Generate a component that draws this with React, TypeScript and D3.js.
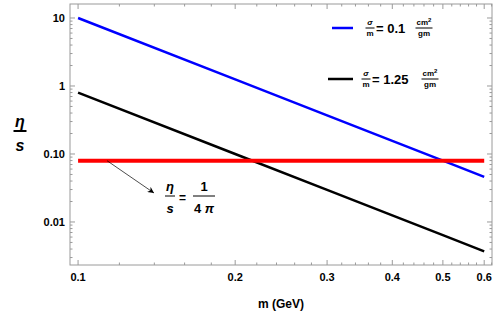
import React from "react";
import * as d3 from "d3";

// m in GeV
const masses = [0.1, 0.2, 0.3, 0.4, 0.5, 0.6];
// eta/s for sigma/m = 0.1 cm^2/gm
const etaBlue = [10, 1.25, 0.37, 0.156, 0.08, 0.046];
// eta/s for sigma/m = 1.25 cm^2/gm
const etaBlack = [0.8, 0.1, 0.0296, 0.0125, 0.0064, 0.0037];
// KSS bound 1/(4 pi)
const kss = 0.0796;

const xMajor = [0.1, 0.2, 0.3, 0.4, 0.5, 0.6];
const xMajorLabels = ["0.1", "0.2", "0.3", "0.4", "0.5", "0.6"];
const yMajor = [0.01, 0.1, 1, 10];
const yMajorLabels = ["0.01", "0.10", "1", "10"];

const W = 498;
const H = 319;
const FRAME = { left: 70, right: 492, top: 4, bottom: 265 };
const GRAY = "#9a9a9a";
const FONT = "'Liberation Sans', Arial, sans-serif";

export default function App() {
  const x = d3.scaleLog().domain([0.0965, 0.621]).range([FRAME.left, FRAME.right]);
  const y = d3.scaleLog().domain([0.00233, 16.06]).range([FRAME.bottom, FRAME.top]);

  const xMinor: number[] = [];
  for (let i = 12; i <= 62; i += 2) {
    if (i % 10 !== 0) xMinor.push(i / 100);
  }
  const yMinor: number[] = [];
  [0.001, 0.01, 0.1, 1, 10].forEach(d => {
    for (let k = 2; k <= 9; k++) {
      const v = d * k;
      if (v > 0.00233 && v < 16.06) yMinor.push(v);
    }
  });

  const line = d3
    .line<[number, number]>()
    .x(d => x(d[0]))
    .y(d => y(d[1]));

  const blue = masses.map((m, i) => [m, etaBlue[i]] as [number, number]);
  const black = masses.map((m, i) => [m, etaBlack[i]] as [number, number]);
  const red = [[0.1, kss], [0.6, kss]] as [number, number][];

  const frac = (
    cx: number,
    cy: number,
    top: React.ReactNode,
    bottom: React.ReactNode,
    w: number,
    size: number,
    italic = false,
    gapTop = 3,
    gapBottom = size,
    barW = 1
  ) => (
    <g>
      <text x={cx} y={cy - gapTop} textAnchor="middle" fontSize={size} fontStyle={italic ? "italic" : "normal"} fontWeight="bold">
        {top}
      </text>
      <line x1={cx - w / 2} x2={cx + w / 2} y1={cy} y2={cy} stroke="#000" strokeWidth={barW} />
      <text x={cx} y={cy + gapBottom} textAnchor="middle" fontSize={size} fontStyle={italic ? "italic" : "normal"} fontWeight="bold">
        {bottom}
      </text>
    </g>
  );

  return (
    <svg width={W} height={H} style={{ position: "absolute", left: 0, top: 0, background: "#fff" }} fontFamily={FONT}>
      <defs>
        <marker id="arrow" viewBox="0 0 10 10" refX="10" refY="5" markerWidth="9" markerHeight="9" orient="auto">
          <path d="M0,0 L10,5 L0,10 L3,5 z" fill="#000" />
        </marker>
      </defs>

      {/* data lines */}
      <path d={line(blue) ?? ""} fill="none" stroke="#0000ff" strokeWidth={2.5} />
      <path d={line(black) ?? ""} fill="none" stroke="#000" strokeWidth={2.5} />
      <path d={line(red) ?? ""} fill="none" stroke="#ff0000" strokeWidth={4} />

      {/* frame */}
      <rect x={FRAME.left} y={FRAME.top} width={FRAME.right - FRAME.left} height={FRAME.bottom - FRAME.top} fill="none" stroke={GRAY} strokeWidth={1} />

      {/* x ticks */}
      {xMajor.map(v => (
        <g key={"xm" + v}>
          <line x1={x(v)} x2={x(v)} y1={FRAME.bottom} y2={FRAME.bottom - 5} stroke={GRAY} />
          <line x1={x(v)} x2={x(v)} y1={FRAME.top} y2={FRAME.top + 5} stroke={GRAY} />
        </g>
      ))}
      {xMinor.map(v => (
        <g key={"xn" + v}>
          <line x1={x(v)} x2={x(v)} y1={FRAME.bottom} y2={FRAME.bottom - 2.5} stroke={GRAY} />
          <line x1={x(v)} x2={x(v)} y1={FRAME.top} y2={FRAME.top + 2.5} stroke={GRAY} />
        </g>
      ))}
      {xMajor.map((v, i) => (
        <text key={"xl" + v} x={x(v)} y={FRAME.bottom + 16} textAnchor="middle" fontSize={11} fontWeight="bold">
          {xMajorLabels[i]}
        </text>
      ))}

      {/* y ticks */}
      {yMajor.map(v => (
        <g key={"ym" + v}>
          <line x1={FRAME.left} x2={FRAME.left + 5} y1={y(v)} y2={y(v)} stroke={GRAY} />
          <line x1={FRAME.right} x2={FRAME.right - 5} y1={y(v)} y2={y(v)} stroke={GRAY} />
        </g>
      ))}
      {yMinor.map(v => (
        <g key={"yn" + v}>
          <line x1={FRAME.left} x2={FRAME.left + 2.5} y1={y(v)} y2={y(v)} stroke={GRAY} />
          <line x1={FRAME.right} x2={FRAME.right - 2.5} y1={y(v)} y2={y(v)} stroke={GRAY} />
        </g>
      ))}
      {yMajor.map((v, i) => (
        <text key={"yl" + v} x={FRAME.left - 5} y={y(v) + 4} textAnchor="end" fontSize={11} fontWeight="bold">
          {yMajorLabels[i]}
        </text>
      ))}

      {/* axis labels */}
      <text x={281} y={308} textAnchor="middle" fontSize={12} fontWeight="bold">
        m (GeV)
      </text>
      {frac(20, 131, "η", "s", 13, 16, true, 4, 20, 2)}

      {/* legend */}
      <line x1={332} x2={353} y1={28} y2={28} stroke="#0000ff" strokeWidth={2.5} />
      {frac(370, 28, <tspan fontStyle="italic">σ</tspan>, "m", 9, 8)}
      <text x={376} y={33} fontSize={13} fontWeight="bold">
        = 0.1
      </text>
      {frac(424, 28, <tspan>cm<tspan fontSize={6} dy={-3}>2</tspan></tspan>, "gm", 17, 8)}

      <line x1={328} x2={353} y1={79} y2={79} stroke="#000" strokeWidth={2.5} />
      {frac(366, 79, <tspan fontStyle="italic">σ</tspan>, "m", 9, 8)}
      <text x={372} y={84} fontSize={13} fontWeight="bold">
        = 1.25
      </text>
      {frac(430, 79, <tspan>cm<tspan fontSize={6} dy={-3}>2</tspan></tspan>, "gm", 17, 8)}

      {/* KSS annotation */}
      <line x1={x(0.1) + 29} x2={154} y1={y(kss)} y2={193} stroke="#000" strokeWidth={0.7} markerEnd="url(#arrow)" />
      {frac(170, 196, "η", "s", 10, 13, true, 5, 17)}
      <text x={179} y={202} fontSize={12} fontWeight="bold">=</text>
      {frac(204, 196, "1", <tspan>4 <tspan fontStyle="italic">π</tspan></tspan>, 22, 13, false, 5, 17)}
    </svg>
  );
}
